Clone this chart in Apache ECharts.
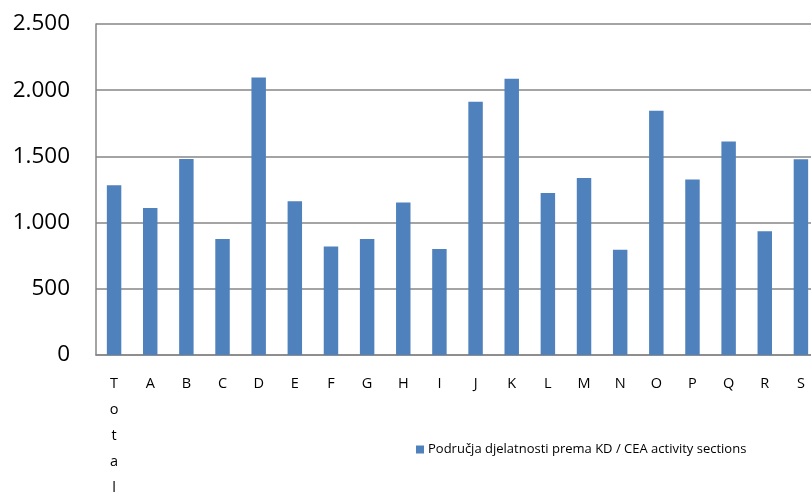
<!DOCTYPE html>
<html>
<head>
<meta charset="utf-8">
<script src="https://cdn.jsdelivr.net/npm/echarts@6/dist/echarts.min.js"></script>
<style>
html,body{margin:0;padding:0;background:#fff;}
#c{width:811px;height:494px;}
</style>
</head>
<body>
<div id="c"></div>
<script>
const categories = ['Total','A','B','C','D','E','F','G','H','I','J','K','L','M','N','O','P','Q','R','S'];
const values = [1283,1111,1481,877,2096,1162,819,877,1151,801,1912,2086,1224,1336,794,1844,1325,1612,935,1479];
const seriesName = 'Područja djelatnosti prema KD / CEA activity sections';
const yTicks = {min:0, max:2500, interval:500};

const chart = echarts.init(document.getElementById('c'));
chart.setOption({
  animation:false,
  backgroundColor:'#fff',
  textStyle:{fontFamily:'Open Sans'},
  grid:{left:96, top:24, height:331, width:723, containLabel:false, outerBoundsMode:'none'},
  legend:{
    data:[seriesName],
    left:411, top:438,
    icon:'rect', itemWidth:8, itemHeight:8, itemGap:4,
    textStyle:{fontFamily:'Open Sans', fontSize:13, color:'#000', padding:[0,0,0,-1]}
  },
  xAxis:{
    type:'category',
    data:categories,
    axisLine:{show:true, lineStyle:{color:'#868686', width:1.5}},
    axisTick:{show:false},
    axisLabel:{
      color:'#000', fontSize:14.5, fontFamily:'Open Sans', margin:16, lineHeight:26,
      interval:0,
      formatter:function(v){ return v.split('').join('\n'); }
    }
  },
  yAxis:{
    type:'value',
    min:yTicks.min, max:yTicks.max, interval:yTicks.interval,
    axisLine:{show:true, lineStyle:{color:'#868686', width:1.5}},
    axisTick:{show:false},
    splitLine:{show:true, lineStyle:{color:'#868686', width:1.5}},
    axisLabel:{
      color:'#000', fontSize:22.5, fontFamily:'Open Sans', margin:26,
      formatter:function(v){ return String(v).replace(/\B(?=(\d{3})+(?!\d))/g,'.'); }
    }
  },
  series:[{
    name:seriesName,
    type:'bar',
    data:values,
    barWidth:'40%',
    itemStyle:{color:'#4F81BD'}
  }]
});
</script>
</body>
</html>
